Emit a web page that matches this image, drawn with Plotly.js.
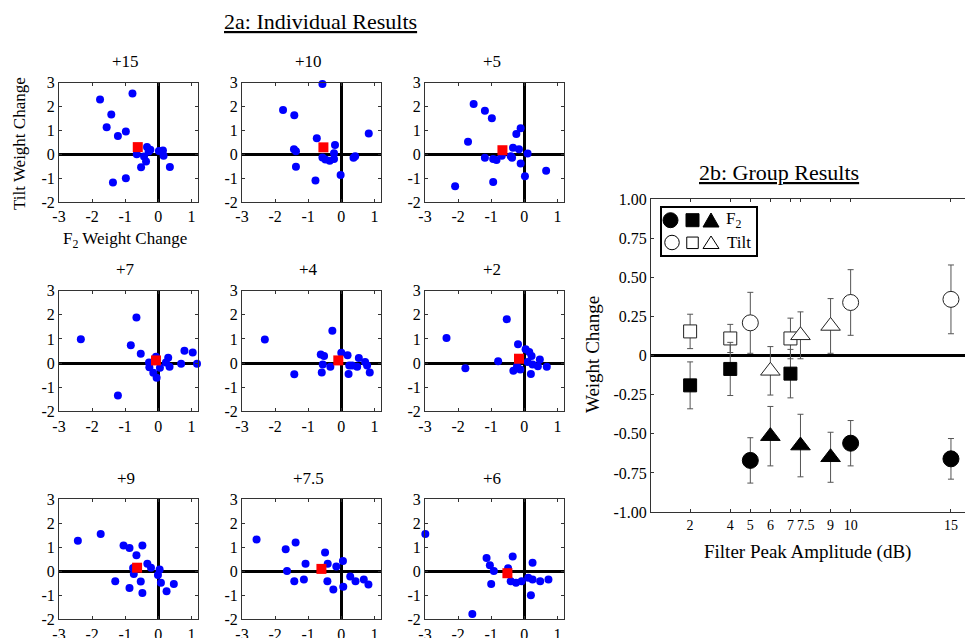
<!DOCTYPE html>
<html>
<head>
<meta charset="utf-8">
<script src="https://cdn.plot.ly/plotly-3.0.1.min.js"></script>
<style>html,body{margin:0;padding:0;background:#fff;}</style>
</head>
<body>
<div id="chart" style="width:965px;height:638px;"></div>
<script>
// ---------------- DATA ----------------
const panelTitles = ['+15', '+10', '+5', '+7', '+4', '+2', '+9', '+7.5', '+6'];

const indivXTickVals = [-3, -2, -1, 0, 1];
const indivXTickText = ['-3', '-2', '-1', '0', '1'];
const indivYTickVals = [-2, -1, 0, 1, 2, 3];
const indivYTickText = ['-2', '-1', '0', '1', '2', '3'];

// Individual listener weight changes (x = F2 weight change, y = Tilt weight change)
const f2_p15   = [-1.76, -0.78, -1.42, -1.56, -1.22, -0.98, -1.37, -0.98, -0.65, -0.34, -0.24, -0.43, -0.37, -0.52, 0.02, 0.14, 0.16, 0.35, -0.29];
const tilt_p15 = [2.30, 2.55, 1.67, 1.13, 0.77, 0.95, -1.18, -1.00, 0.00, 0.30, 0.19, -0.09, -0.30, -0.54, 0.14, 0.16, -0.06, -0.53, 0.12];

const f2_p10   = [-0.57, -1.76, -1.42, 0.83, -0.74, -1.43, -1.37, -1.37, -0.19, -0.22, -0.57, -0.48, -0.35, -0.22, 0.37, 0.42, -0.02, -0.78];
const tilt_p10 = [2.95, 1.86, 1.64, 0.87, 0.67, 0.21, 0.13, -0.52, 0.39, 0.04, -0.13, -0.22, -0.27, -0.20, -0.15, -0.08, -0.87, -1.10];

const f2_p5    = [-1.53, -1.19, -0.98, -0.11, -0.24, -1.70, -0.34, -0.16, 0.10, -1.19, -0.94, -0.84, -0.68, -0.41, -0.37, -0.11, 0.02, 0.66, -2.09, -0.94];
const tilt_p5  = [2.11, 1.82, 1.51, 1.09, 0.85, 0.52, 0.27, 0.21, 0.03, -0.15, -0.20, -0.24, -0.06, -0.08, -0.15, -0.39, -0.92, -0.69, -1.34, -1.16];

const f2_p7    = [-0.66, -2.34, -0.83, -0.53, -1.22, 0.79, 1.04, 1.17, 0.69, 0.30, 0.34, 0.23, -0.28, -0.27, -0.15, -0.05, -0.07, 0.05];
const tilt_p7  = [1.89, 0.99, 0.74, 0.39, -1.34, 0.51, 0.44, -0.03, -0.03, 0.22, -0.15, 0.02, 0.02, -0.17, -0.40, -0.61, 0.26, -0.19];

const f2_p4    = [-0.27, -2.31, -1.42, -0.62, -0.52, -0.56, -0.59, -0.33, 0.00, 0.19, 0.24, 0.33, 0.48, 0.53, 0.72, 0.78, 0.86, 0.22];
const tilt_p4  = [1.34, 0.98, -0.46, 0.36, 0.29, -0.06, -0.39, -0.15, 0.43, 0.32, -0.10, -0.10, -0.15, 0.21, 0.04, -0.10, -0.39, -0.45];

const f2_p2    = [-0.53, -2.35, -1.78, -0.79, -0.19, 0.04, 0.15, 0.22, 0.47, 0.10, 0.25, 0.41, 0.68, -0.33, -0.20, -0.12, 0.20, -0.22];
const tilt_p2  = [1.82, 1.04, -0.21, 0.08, 0.78, 0.57, 0.46, 0.29, 0.15, 0.04, -0.06, -0.13, -0.15, -0.32, -0.22, -0.27, -0.45, -0.13];

const f2_p9    = [-2.43, -1.74, -1.05, -0.87, -0.48, -0.66, -0.33, -0.22, 0.04, -0.01, 0.08, 0.47, 0.25, -0.48, -0.87, -0.53, -1.30, -0.74, -0.76];
const tilt_p9  = [1.27, 1.55, 1.08, 0.97, 1.08, 0.67, 0.31, 0.15, 0.08, -0.15, -0.48, -0.53, -0.83, -0.90, -0.70, -0.42, -0.41, -0.11, 0.14];

const f2_p75   = [-2.56, -1.38, -1.68, -1.08, -0.49, -0.41, -0.15, 0.05, -1.64, -1.42, -1.13, -0.42, -0.24, 0.06, 0.27, 0.43, 0.68, 0.82];
const tilt_p75 = [1.33, 1.20, 0.92, 0.31, 0.78, 0.31, 0.20, 0.43, 0.01, -0.41, -0.34, -0.41, -0.76, -0.64, -0.22, -0.41, -0.34, -0.55];

const f2_p6    = [-2.99, -1.14, -1.04, -0.92, -1.00, -0.35, 0.25, -0.49, -0.41, -0.25, -0.08, 0.12, 0.25, 0.48, 0.73, 0.20, -1.57];
const tilt_p6  = [1.55, 0.55, 0.25, 0.01, -0.53, 0.62, 0.36, 0.13, -0.41, -0.48, -0.41, -0.27, -0.34, -0.41, -0.34, -1.00, -1.78];

// Panel means (red squares)
const meanF2   = [-0.62, -0.54, -0.66, -0.07, -0.09, -0.16, -0.64, -0.60, -0.51];
const meanTilt = [0.30, 0.29, 0.17, 0.11, 0.11, 0.18, 0.15, 0.10, -0.08];

// Group results
const groupXTickVals = [2, 4, 5, 6, 7, 7.5, 9, 10, 15];
const groupXTickText = ['2', '4', '5', '6', '7', '\u00a0\u00a0\u00a07.5', '9', '10', '15'];
const groupYTickVals = [1, 0.75, 0.5, 0.25, 0, -0.25, -0.5, -0.75, -1];
const groupYTickText = ['1.00', '0.75', '0.50', '0.25', '0', '-0.25', '-0.50', '-0.75', '-1.00'];

const circleDb = [5, 10, 15];
const squareDb = [2, 4, 7];
const triangleDb = [6, 7.5, 9];

const f2Circle = [-0.67, -0.56, -0.66];
const f2CircleErr = [0.145, 0.145, 0.13];
const f2Square = [-0.19, -0.085, -0.115];
const f2SquareErr = [0.15, 0.17, 0.155];
const f2Triangle = [-0.515, -0.575, -0.65];
const f2TriangleErr = [0.19, 0.2, 0.16];

const tiltCircle = [0.21, 0.34, 0.36];
const tiltCircleErr = [0.195, 0.21, 0.22];
const tiltSquare = [0.155, 0.11, 0.11];
const tiltSquareErr = [0.11, 0.09, 0.13];
const tiltTriangle = [-0.097, 0.13, 0.19];
const tiltTriangleErr = [0.155, 0.15, 0.175];

// ---------------- LAYOUT HELPERS ----------------
const W = 965, H = 638;
const FONT = 'Liberation Serif, Times New Roman, serif';
const px = v => v / W;
const py = v => 1 - v / H;

const colL = [59, 242, 425], colR = [198, 381, 564];
const rowT = [82.7, 290.7, 499.3], rowB = [202, 411.3, 619.3];

const panelF2 = [f2_p15, f2_p10, f2_p5, f2_p7, f2_p4, f2_p2, f2_p9, f2_p75, f2_p6];
const panelTilt = [tilt_p15, tilt_p10, tilt_p5, tilt_p7, tilt_p4, tilt_p2, tilt_p9, tilt_p75, tilt_p6];

const traces = [];
const layout = {
  width: W, height: H,
  margin: {l: 0, r: 0, t: 0, b: 0},
  paper_bgcolor: '#fff', plot_bgcolor: '#fff',
  showlegend: false,
  font: {family: FONT, color: '#000'},
  annotations: [],
  shapes: []
};

function ann(text, x, y, size, extra) {
  return Object.assign({
    text: text, x: px(x), y: py(y), xref: 'paper', yref: 'paper',
    showarrow: false, xanchor: 'center', yanchor: 'middle',
    font: {family: FONT, size: size, color: '#000'}
  }, extra || {});
}

for (let i = 0; i < 9; i++) {
  const k = i + 1, s = k === 1 ? '' : String(k);
  const r = Math.floor(i / 3), c = i % 3;
  traces.push({
    type: 'scatter', mode: 'markers', x: panelF2[i], y: panelTilt[i],
    xaxis: 'x' + s, yaxis: 'y' + s, cliponaxis: false, hoverinfo: 'skip',
    marker: {color: '#0000ff', size: 8, line: {width: 0}}
  });
  traces.push({
    type: 'scatter', mode: 'markers', x: [meanF2[i]], y: [meanTilt[i]],
    xaxis: 'x' + s, yaxis: 'y' + s, cliponaxis: false, hoverinfo: 'skip',
    marker: {color: '#ff0000', size: 10, symbol: 'square', line: {width: 0}}
  });
  const common = {
    ticks: 'inside', ticklen: 3, tickcolor: '#333', tickwidth: 1,
    showline: true, linecolor: '#333', linewidth: 1, mirror: 'ticks',
    showgrid: false, zeroline: true, zerolinecolor: '#000', zerolinewidth: 3,
    tickfont: {family: FONT, size: 16, color: '#000'}, fixedrange: true
  };
  layout['xaxis' + s] = Object.assign({}, common, {
    domain: [px(colL[c]), px(colR[c])], anchor: 'y' + s,
    range: [-3, 1.2], tickmode: 'array', tickvals: indivXTickVals, ticktext: indivXTickText, tickangle: 0
  });
  layout['yaxis' + s] = Object.assign({}, common, {
    domain: [py(rowB[r]), py(rowT[r])], anchor: 'x' + s,
    range: [-2, 3], tickmode: 'array', tickvals: indivYTickVals, ticktext: indivYTickText
  });
  layout.annotations.push(ann(panelTitles[i], (colL[c] + colR[c]) / 2 - 3, rowT[r] - 21, 17));
}

// Group panel
function groupTrace(xs, ys, errs, symbol, size, filled) {
  return {
    type: 'scatter', mode: 'markers', x: xs, y: ys, xaxis: 'x10', yaxis: 'y10',
    cliponaxis: false, hoverinfo: 'skip',
    error_y: {type: 'data', array: errs, visible: true, color: '#555', thickness: 1, width: 3},
    marker: {symbol: symbol, size: size, color: filled ? '#000' : '#fff',
             line: {color: filled ? '#000' : '#222', width: 1}}
  };
}
traces.push(groupTrace(squareDb, tiltSquare, tiltSquareErr, 'square', 13, false));
traces.push(groupTrace(circleDb, tiltCircle, tiltCircleErr, 'circle', 16, false));
traces.push(groupTrace(triangleDb, tiltTriangle, tiltTriangleErr, 'triangle-up', 17, false));
traces.push(groupTrace(squareDb, f2Square, f2SquareErr, 'square', 13, true));
traces.push(groupTrace(circleDb, f2Circle, f2CircleErr, 'circle', 16, true));
traces.push(groupTrace(triangleDb, f2Triangle, f2TriangleErr, 'triangle-up', 17, true));

layout.xaxis10 = {
  domain: [px(651), 1], anchor: 'y10', range: [0.05, 15.7],
  tickmode: 'array', tickvals: groupXTickVals, ticktext: groupXTickText, tickangle: 0,
  ticks: 'inside', ticklen: 3, tickcolor: '#333', showline: true, linecolor: '#333', linewidth: 1,
  mirror: 'ticks', showgrid: false, zeroline: false,
  tickfont: {family: FONT, size: 14, color: '#000'}, fixedrange: true
};
layout.yaxis10 = {
  domain: [py(512), py(199.3)], anchor: 'x10', range: [-1, 1],
  tickmode: 'array', tickvals: groupYTickVals, ticktext: groupYTickText,
  ticks: 'inside', ticklen: 3, tickcolor: '#333', showline: true, linecolor: '#333', linewidth: 1,
  mirror: false, showgrid: false, zeroline: true, zerolinecolor: '#000', zerolinewidth: 3,
  tickfont: {family: FONT, size: 16, color: '#000'}, fixedrange: true
};

// Titles and axis labels
layout.annotations.push(ann('<u>2a: Individual Results</u>', 320, 21, 22));
layout.annotations.push(ann('<u>2b: Group Results</u>', 779, 172, 22));
layout.annotations.push(ann('Tilt Weight Change', 19.5, 143.5, 17, {textangle: -90}));
layout.annotations.push(ann('F<sub>2</sub> Weight Change', 125, 240, 17));
layout.annotations.push(ann('Weight Change', 592, 355, 19, {textangle: -90}));
layout.annotations.push(ann('Filter Peak Amplitude (dB)', 807.5, 551.7, 19));

// Legend box (decorative symbols in paper space)
layout.shapes.push({type: 'rect', xref: 'paper', yref: 'paper', x0: px(661), x1: px(757), y0: py(256), y1: py(207),
  line: {color: '#000', width: 2}, fillcolor: '#fff', layer: 'above'});
function legCircle(cx, cy, d, filled) {
  return {type: 'circle', xref: 'paper', yref: 'paper', x0: px(cx - d / 2), x1: px(cx + d / 2), y0: py(cy + d / 2), y1: py(cy - d / 2),
    line: {color: '#000', width: 1}, fillcolor: filled ? '#000' : '#fff', layer: 'above'};
}
function legSquare(cx, cy, a, filled) {
  return {type: 'rect', xref: 'paper', yref: 'paper', x0: px(cx - a / 2), x1: px(cx + a / 2), y0: py(cy + a / 2), y1: py(cy - a / 2),
    line: {color: '#000', width: 1}, fillcolor: filled ? '#000' : '#fff', layer: 'above'};
}
function legTri(cx, top, bottom, w, filled) {
  return {type: 'path', xref: 'paper', yref: 'paper',
    path: 'M' + px(cx - w / 2) + ',' + py(bottom) + ' L' + px(cx + w / 2) + ',' + py(bottom) + ' L' + px(cx) + ',' + py(top) + ' Z',
    line: {color: '#000', width: 1}, fillcolor: filled ? '#000' : '#fff', layer: 'above'};
}
layout.shapes.push(legCircle(670.5, 220.2, 15, true));
layout.shapes.push(legSquare(692.5, 220.2, 13, true));
layout.shapes.push(legTri(711, 213, 227, 16, true));
layout.shapes.push(legCircle(672, 242.5, 14.5, false));
layout.shapes.push(legSquare(692.5, 242.8, 11.5, false));
layout.shapes.push(legTri(711, 236, 248.5, 16, false));
layout.annotations.push(ann('F<sub>2</sub>', 724, 220, 17, {xanchor: 'left'}));
layout.annotations.push(ann('Tilt', 725, 242, 17, {xanchor: 'left'}));

Plotly.newPlot('chart', traces, layout, {staticPlot: true, displayModeBar: false});
</script>
</body>
</html>
